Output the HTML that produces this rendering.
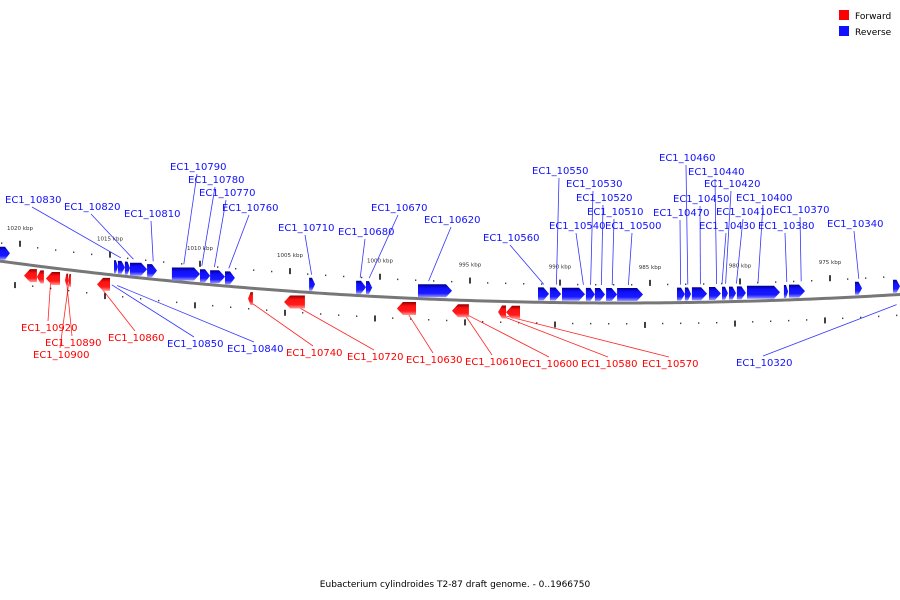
<!DOCTYPE html>
<html><head><meta charset="utf-8"><style>
body{margin:0;background:#fff}
svg{display:block;font-family:"DejaVu Sans","Liberation Sans",sans-serif}
</style></head><body>
<svg id="chart" width="900" height="600" viewBox="0 0 900 600" xmlns="http://www.w3.org/2000/svg">
<defs>
<linearGradient id="gb" x1="0" y1="0" x2="0" y2="1"><stop offset="0" stop-color="#00008c"/><stop offset="0.3" stop-color="#1010ff"/><stop offset="0.7" stop-color="#1a1aff"/><stop offset="1" stop-color="#9a9aff"/></linearGradient>
<linearGradient id="gr" x1="0" y1="0" x2="0" y2="1"><stop offset="0" stop-color="#8c0000"/><stop offset="0.3" stop-color="#ff1010"/><stop offset="0.7" stop-color="#ff1a1a"/><stop offset="1" stop-color="#ff9a9a"/></linearGradient>
</defs>
<g id="ruler"></g>
<path id="backbone" fill="none" stroke="#777" stroke-width="3"/>
<g id="leaders"></g>
<g id="genes"></g>
<g id="labels"></g>
<g>
<rect x="839" y="10" width="10" height="10" fill="#f00"/>
<text x="855" y="19" font-size="9">Forward</text>
<rect x="839" y="26" width="10" height="10" fill="#11f"/>
<text x="855" y="35" font-size="9">Reverse</text>
</g>
<text x="455" y="587" font-size="9" text-anchor="middle">Eubacterium cylindroides T2-87 draft genome. - 0..1966750</text>
</svg>
<script>
// gene positions in kbp
const geneStart=[1021.11,1014.78,1014.56,1014.17,1013.89,1012.94,1011.56,1010.00,1009.44,1008.61,1003.94,1001.33,1000.78,997.89,991.22,990.56,989.89,988.56,988.06,987.44,986.83,983.50,983.06,982.67,981.72,981.00,980.61,980.17,979.61,977.56,977.28,973.61,971.50,
1019.78,1019.06,1018.56,1017.50,1017.33,1015.72,1007.33,1005.33,999.06,996.00,993.44,993.00];
const geneEnd=[1020.56,1014.56,1014.17,1013.89,1012.94,1012.39,1010.00,1009.44,1008.61,1008.06,1003.61,1000.78,1000.44,996.00,990.61,989.94,988.61,988.06,987.50,986.83,985.39,983.06,982.72,981.83,981.06,980.67,980.22,979.67,977.78,977.33,976.39,973.22,971.11,
1019.06,1018.67,1017.78,1017.33,1017.17,1015.00,1007.06,1004.17,998.00,995.06,993.00,992.22];
const geneStrand=['R','R','R','R','R','R','R','R','R','R','R','R','R','R','R','R','R','R','R','R','R','R','R','R','R','R','R','R','R','R','R','R','R',
'F','F','F','F','F','F','F','F','F','F','F','F'];
// labels
const labelNames=['EC1_10830','EC1_10820','EC1_10810','EC1_10790','EC1_10780','EC1_10770','EC1_10760','EC1_10710','EC1_10680','EC1_10670','EC1_10620','EC1_10560','EC1_10550','EC1_10530','EC1_10520','EC1_10510','EC1_10540','EC1_10500','EC1_10470','EC1_10460','EC1_10450','EC1_10440','EC1_10420','EC1_10410','EC1_10430','EC1_10400','EC1_10380','EC1_10370','EC1_10340',
'EC1_10920','EC1_10890','EC1_10900','EC1_10860','EC1_10850','EC1_10840','EC1_10740','EC1_10720','EC1_10630','EC1_10610','EC1_10600','EC1_10580','EC1_10570','EC1_10320'];
const labelX=[5,64,124,170,188,199,222,278,338,371,424,483,532,566,576,587,549,605,653,659,673,688,704,716,699,736,758,773,827,
21,45,33,108,167,227,286,347,406,465,522,581,642,736];
const labelY=[203,210,217,170,183,196,211,231,235,211,223,241,174,187,201,215,229,229,216,161,202,175,187,215,229,201,229,213,227,
331,346,358,341,347,352,356,360,363,365,367,367,367,366];
const labelTarget=[1014.4,1013.7,1012.6,1010.9,1009.9,1009.2,1008.4,1003.8,1001.1,1000.6,997.3,990.9,990.2,988.3,987.7,987.1,988.7,986.2,983.3,982.9,982.2,981.3,980.8,980.2,981.0,979.0,977.4,976.6,973.4,
1018.3,1017.4,1017.3,1015.5,1014.9,1014.6,1007.2,1004.7,998.5,995.3,995.2,993.3,993.1,971.3];
const labelStrand=['R','R','R','R','R','R','R','R','R','R','R','R','R','R','R','R','R','R','R','R','R','R','R','R','R','R','R','R','R',
'F','F','F','F','R','R','F','F','F','F','F','F','F','R'];
const tickLabels=[1020,1015,1010,1005,1000,995,990,985,980,975];

const NS='http://www.w3.org/2000/svg';
function xs(k){return 20+(1020-k)*18;}
function cy(x){return 303-1.09e-4*(x-620)*(x-620);}
function mk(tag,attrs,parent){const e=document.createElementNS(NS,tag);for(const a in attrs)e.setAttribute(a,attrs[a]);parent.appendChild(e);return e;}

let d='M-5 '+cy(-5);
for(let x=0;x<=905;x+=5)d+=' L'+x+' '+cy(x).toFixed(2);
document.getElementById('backbone').setAttribute('d',d);

const ruler=document.getElementById('ruler');
for(let k=1022;k>=969;k-=1){
  const x=xs(k);
  const major=(k%5===0);
  const t1=mk('rect',{x:x-0.75,y:cy(x)-(major?23:19),width:major?1.5:1,height:major?6:1.5,fill:'#000'},ruler);
  
  
  const x2=x-5;
  const t2=mk('rect',{x:x2-0.75,y:cy(x2)+(major?19:20),width:major?1.5:1,height:major?6:1.5,fill:'#000'},ruler);
  
  
}
tickLabels.forEach(k=>{
  const x=xs(k);
  const t=mk('text',{x:x,y:cy(x)-34,'font-size':5.5,'text-anchor':'middle',fill:'#333'},ruler);
  t.textContent=k+' kbp';
  
  
});

const genes=document.getElementById('genes');
for(let i=0;i<geneStart.length;i++){
  const x1=xs(geneStart[i]),x2=xs(geneEnd[i]);
  const w=x2-x1, h=13;
  const xm=(x1+x2)/2;
  const c=cy(xm);
  const head=Math.min(6,w*0.5);
  let pts;
  if(geneStrand[i]==='R'){
    const y=c-h-2;
    pts=[[x1,y],[x2-head,y],[x2,y+h/2],[x2-head,y+h],[x1,y+h]];
  } else {
    const y=c+4;
    pts=[[x2,y],[x1+head,y],[x1,y+h/2],[x1+head,y+h],[x2,y+h]];
  }
  const p=mk('polygon',{points:pts.map(q=>q[0].toFixed(1)+','+q[1].toFixed(1)).join(' '),fill:geneStrand[i]==='R'?'url(#gb)':'url(#gr)'},genes);
  
  
}

const leaders=document.getElementById('leaders'),labels=document.getElementById('labels');
for(let i=0;i<labelNames.length;i++){
  const col=labelStrand[i]==='R'?'#11f':'#f00';
  const below=labelY[i]>300;
  const tx=xs(labelTarget[i]);
  const ax=labelX[i]+27;
  const ay=below?labelY[i]-10:labelY[i]+4;
  const gy=below?cy(tx)+(labelStrand[i]==='R'?10:14):cy(tx)-18;
  const l=mk('line',{x1:ax,y1:ay,x2:tx,y2:gy,stroke:col,'stroke-width':0.8,opacity:0.85},leaders);
  
  
  const t=mk('text',{x:labelX[i],y:labelY[i],'font-size':10,fill:col},labels);
  t.textContent=labelNames[i];
  
  
}
</script>
</body></html>
